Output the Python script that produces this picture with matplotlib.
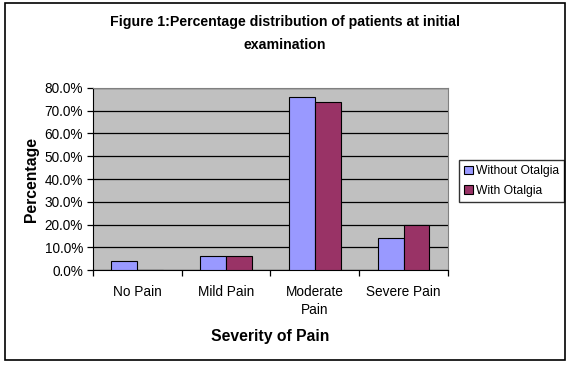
import matplotlib.pyplot as plt
import numpy as np
from matplotlib.patches import Rectangle
from matplotlib.ticker import FuncFormatter, FixedLocator

plt.rcParams['font.family'] = ['Liberation Sans', 'DejaVu Sans']

# Data
categories = ["No Pain", "Mild Pain", "Moderate\nPain", "Severe Pain"]
without_otalgia = [3.8, 6.0, 75.9, 13.9]
with_otalgia = [0.0, 6.4, 73.7, 19.6]
y_ticks = [0, 10, 20, 30, 40, 50, 60, 70, 80]

fig = plt.figure(figsize=(5.7, 3.65), dpi=100)
ax = fig.add_axes([0.1626, 0.260, 0.6234, 0.499])

# outer frame round the whole chart
fig.patches.append(Rectangle((5 / 570, 5 / 365), 560 / 570, 357 / 365,
                             transform=fig.transFigure, fill=False,
                             edgecolor='black', linewidth=1.2))

x = np.arange(len(categories))
width = 0.29
ax.bar(x - width / 2, without_otalgia, width, color='#9999FF', edgecolor='black',
       linewidth=0.8, label='Without Otalgia', zorder=3)
ax.bar(x + width / 2, with_otalgia, width, color='#993366', edgecolor='black',
       linewidth=0.8, label='With Otalgia', zorder=3)

ax.set_facecolor('#C0C0C0')
ax.set_xlim(-0.5, len(categories) - 0.5)
ax.set_ylim(0, 80)
ax.set_yticks(y_ticks)
ax.yaxis.set_major_formatter(FuncFormatter(lambda v, p: f"{v:.1f}%"))
ax.grid(axis='y', color='black', linewidth=0.9, zorder=1)

ax.set_xticks(x)
ax.set_xticklabels(categories, fontsize=9.8, linespacing=1.3)
ax.xaxis.set_minor_locator(FixedLocator(np.arange(-0.5, len(categories), 1.0)))
ax.tick_params(axis='x', which='major', length=0, pad=11)
ax.tick_params(axis='x', which='minor', length=4, width=0.9, direction='out')
ax.tick_params(axis='y', length=4, width=0.9, direction='out', labelsize=9.8, pad=3)

for s in ['top', 'right']:
    ax.spines[s].set_color('#808080')
for s in ['left', 'bottom']:
    ax.spines[s].set_color('black')

ax.set_ylabel('Percentage', fontsize=11.3, fontweight='bold', labelpad=4)
ax.set_xlabel('Severity of Pain', fontsize=11.3, fontweight='bold', labelpad=9)

fig.text(0.5, 1 - 15 / 365, 'Figure 1:Percentage distribution of patients at initial\nexamination',
         ha='center', va='top', fontsize=10.2, fontweight='bold', linespacing=1.8)

leg = ax.legend(loc='center left', bbox_to_anchor=(459 / 570, 184 / 365),
                bbox_transform=fig.transFigure, fontsize=8.7, frameon=True,
                fancybox=False, edgecolor='black', handlelength=0.7, handleheight=0.7,
                handletextpad=0.25, borderpad=0.45, labelspacing=0.6, borderaxespad=0)
leg.get_frame().set_linewidth(1.0)

fig.savefig('out.png', dpi=100)
